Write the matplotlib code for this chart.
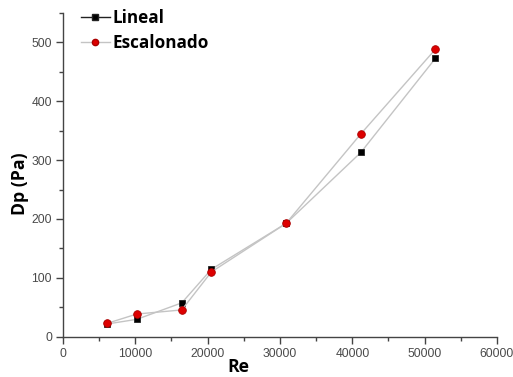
import matplotlib
matplotlib.use("Agg")
import matplotlib.pyplot as plt
from matplotlib.lines import Line2D
from matplotlib.ticker import MultipleLocator

re_vals = [6050, 10200, 16420, 20510, 30840, 41170, 51490]
dp_lineal = [21.5, 29.5, 57.5, 114.5, 192.5, 313, 473]
dp_escalonado = [22.5, 38.5, 45.5, 110, 192.5, 344.5, 488.5]
labels = ["Lineal", "Escalonado"]

fig = plt.figure(figsize=(5.13, 3.77), dpi=100)
ax = fig.add_axes([0.1228, 0.1069, 0.8460, 0.8586])

line_col = "#c4c4c4"
ax.plot(re_vals, dp_lineal, color=line_col, lw=1.0, marker="s", ms=5,
        mfc="black", mec="#222222", mew=0.6, zorder=3)
ax.plot(re_vals, dp_escalonado, color=line_col, lw=1.0, marker="o", ms=5.5,
        mfc="#dd0000", mec="#aa0000", mew=0.6, zorder=4)

ax.set_xlim(0, 60000)
ax.set_ylim(0, 550)
ax.xaxis.set_major_locator(MultipleLocator(10000))
ax.xaxis.set_minor_locator(MultipleLocator(5000))
ax.yaxis.set_major_locator(MultipleLocator(100))
ax.yaxis.set_minor_locator(MultipleLocator(50))

for s in ["top", "right"]:
    ax.spines[s].set_visible(False)
for s in ["left", "bottom"]:
    ax.spines[s].set_color("#444444")
    ax.spines[s].set_linewidth(1.0)

ax.tick_params(which="major", direction="out", length=5, width=1.0, color="#444444",
               labelcolor="#4a4a4a", labelsize=8.7, pad=3)
ax.tick_params(which="minor", direction="out", length=3, width=1.0, color="#444444")
for lab in ax.get_xticklabels() + ax.get_yticklabels():
    lab.set_family("Liberation Sans")

fig.text(238 / 513, 1 - 367 / 377, "Re", fontsize=12.7, fontweight="bold",
         family="Open Sans", ha="center", va="center")
fig.text(20 / 513, 1 - 184 / 377, "Dp (Pa)", fontsize=12.7, fontweight="bold",
         family="Open Sans", ha="center", va="center", rotation=90)

handles = [
    Line2D([], [], color="#222222", lw=1.0, marker="s", ms=4, mfc="black", mec="#222222"),
    Line2D([], [], color=line_col, lw=1.0, marker="o", ms=4.5, mfc="#dd0000", mec="#aa0000"),
]
leg = ax.legend(handles, labels, loc="upper left", bbox_to_anchor=(0.025, 1.035),
                frameon=False, handlelength=1.7, handletextpad=0.15, labelspacing=0.45,
                borderaxespad=0.0,
                prop={"family": "Open Sans", "weight": "bold", "size": 12.3})

fig.savefig("out.png", dpi=100)
